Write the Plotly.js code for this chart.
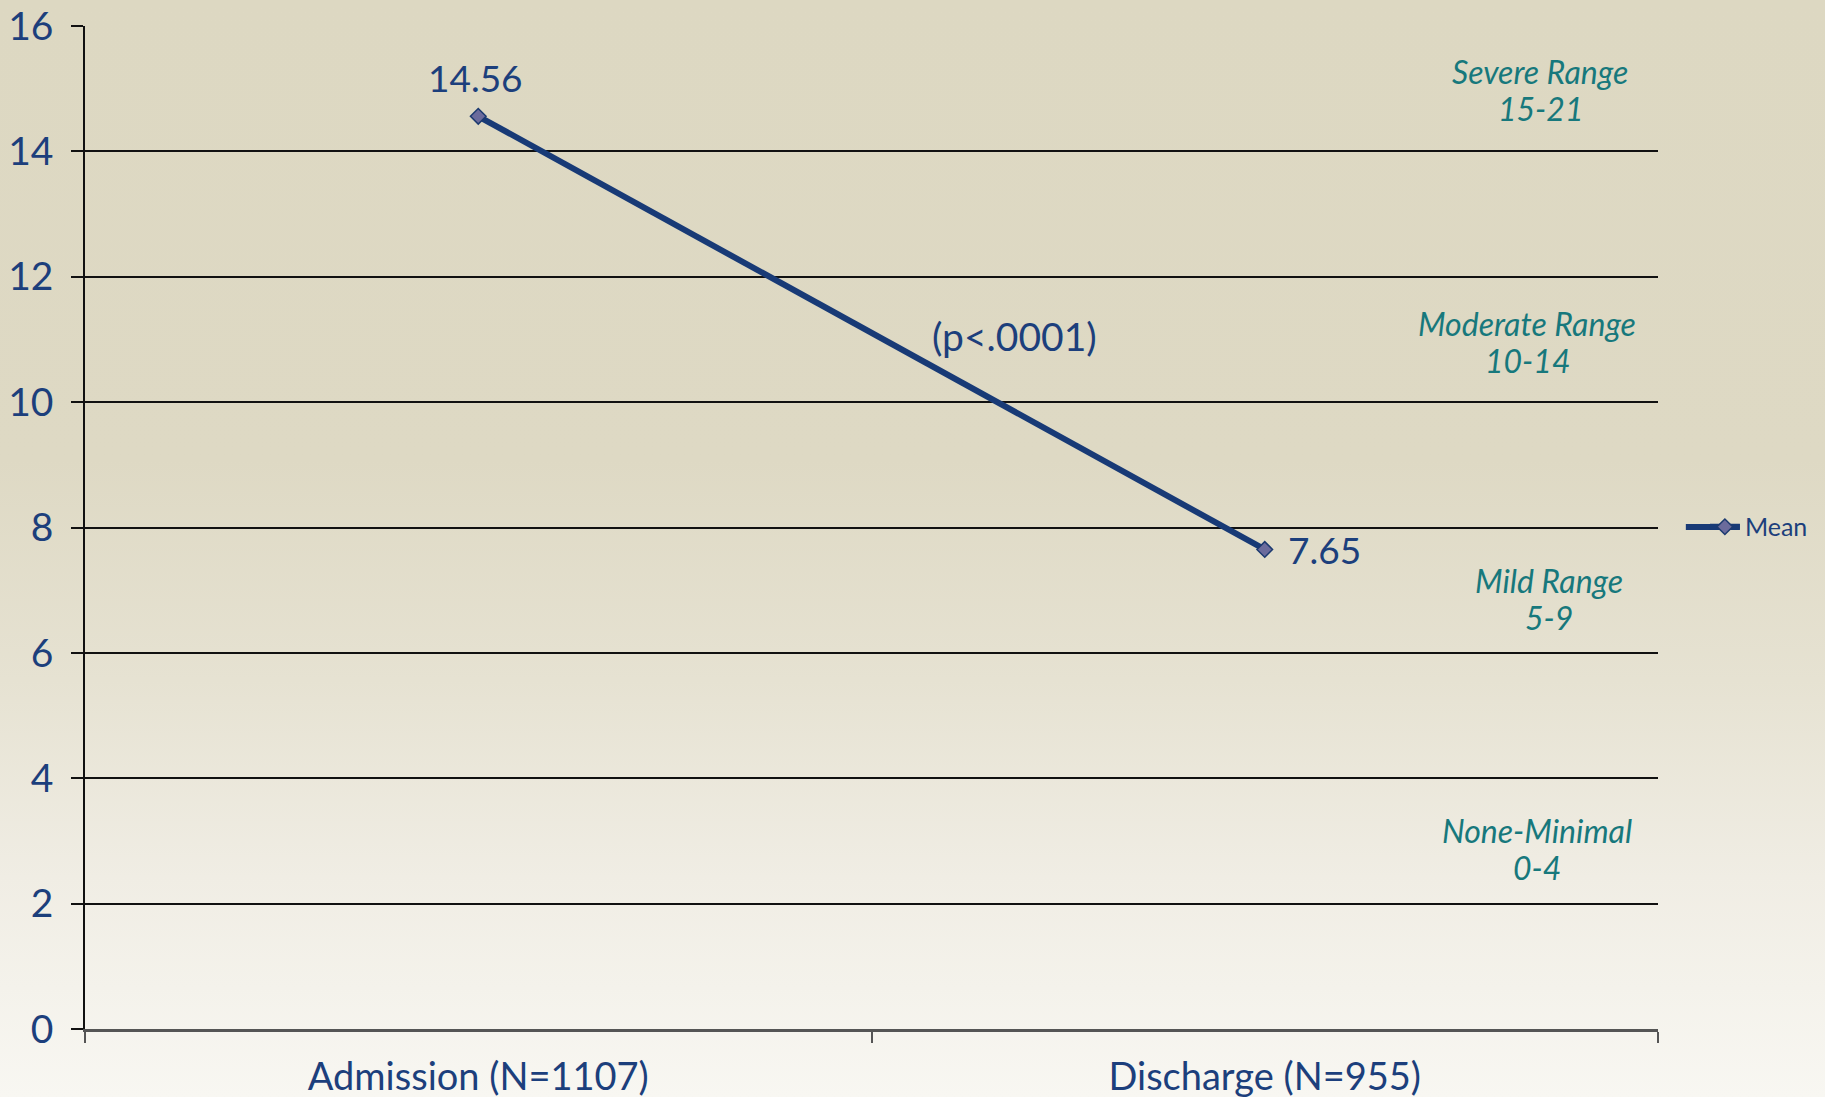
<!DOCTYPE html>
<html>
<head>
<meta charset="utf-8">
<script src="https://cdn.plot.ly/plotly-3.0.1.min.js"></script>
<style>
  html, body { margin: 0; padding: 0; }
  #chart {
    width: 1825px; height: 1097px;
    background: linear-gradient(to bottom, #DDD8C2 0%, #DED9C4 42%, #E6E2D2 62%, #F0EDE4 80%, #F8F7F2 100%);
  }
</style>
</head>
<body>
<div id="chart"></div>
<script>
// ---- data ----
const categories = ['Admission (N=1107)', 'Discharge (N=955)'];
const means = [14.56, 7.65];
const seriesName = 'Mean';
const pValueLabel = '(p<.0001)';
const rangeNames = ['Severe Range', 'Moderate Range', 'Mild Range', 'None-Minimal'];
const rangeSpans = ['15-21', '10-14', '5-9', '0-4'];
const yTicks = [0, 2, 4, 6, 8, 10, 12, 14, 16];

// ---- styling ----
const navy = '#1c3f7c';
const lineColor = '#183a76';
const teal = '#17787c';
const fontFamily = 'Lato, "Open Sans", sans-serif';

const trace = {
  x: categories,
  y: means,
  type: 'scatter',
  mode: 'lines+markers',
  name: seriesName,
  line: { color: lineColor, width: 6 },
  marker: { symbol: 'diamond', size: 12, color: '#6b6b9c', line: { color: '#1c3a70', width: 1.5 } },
  hoverinfo: 'x+y'
};

const annotations = [];
// value labels
annotations.push({
  x: categories[0], y: means[0], xref: 'x', yref: 'y',
  text: means[0].toFixed(2), showarrow: false,
  xanchor: 'center', yanchor: 'middle', yshift: 39, xshift: -3,
  font: { family: fontFamily, size: 37, color: navy }
});
annotations.push({
  x: categories[1], y: means[1], xref: 'x', yref: 'y',
  text: means[1].toFixed(2), showarrow: false,
  xanchor: 'left', yanchor: 'middle', xshift: 21,
  font: { family: fontFamily, size: 37, color: navy }
});
// p-value
annotations.push({
  x: 0.682, y: 11.05, xref: 'x', yref: 'y',
  text: pValueLabel, showarrow: false,
  xanchor: 'center', yanchor: 'middle',
  font: { family: fontFamily, size: 39, color: navy }
});
// severity range labels (two lines each)
const rangeLabelY = [14.98, 10.96, 6.86, 2.88];
const rangeLabelX = [0.925, 0.917, 0.931, 0.923];
rangeNames.forEach((n, i) => {
  annotations.push({
    x: rangeLabelX[i], y: rangeLabelY[i], xref: 'paper', yref: 'y',
    text: '<i>' + n + '</i>', showarrow: false,
    xanchor: 'center', yanchor: 'middle', yshift: 18,
    font: { family: fontFamily, size: 32, color: teal }
  });
  annotations.push({
    x: rangeLabelX[i], y: rangeLabelY[i], xref: 'paper', yref: 'y',
    text: '<i>' + rangeSpans[i] + '</i>', showarrow: false,
    xanchor: 'center', yanchor: 'middle', yshift: -19,
    font: { family: fontFamily, size: 32, color: teal }
  });
});

const layout = {
  width: 1825, height: 1097, autosize: false,
  margin: { l: 85, r: 165, t: 26, b: 68, pad: 0 },
  paper_bgcolor: 'rgba(0,0,0,0)',
  plot_bgcolor: 'rgba(0,0,0,0)',
  font: { family: fontFamily, color: navy },
  showlegend: true,
  legend: {
    x: 1.0298, y: 0.5005, xanchor: 'left', yanchor: 'middle',
    bgcolor: 'rgba(0,0,0,0)', font: { family: fontFamily, size: 25, color: navy }
  },
  shapes: [{
    // extends the legend key line to match the original's longer key
    type: 'line', xref: 'paper', yref: 'paper',
    x0: 1.0177, x1: 1.052, y0: 0.5005, y1: 0.5005,
    line: { color: lineColor, width: 6 }, layer: 'above'
  }],
  xaxis: {
    type: 'category', range: [-0.5, 1.5],
    showline: true, linecolor: '#555', linewidth: 2.5,
    ticks: 'outside', tickson: 'boundaries', ticklen: 11, tickcolor: '#555', tickwidth: 1.5,
    showgrid: false, zeroline: false,
    tickfont: { family: fontFamily, size: 38, color: navy },
    ticklabelstandoff: 13
  },
  yaxis: {
    range: [0, 16], tickvals: yTicks,
    showgrid: true, gridcolor: '#111', gridwidth: 1.5,
    showline: true, linecolor: '#111', linewidth: 1.5,
    ticks: 'outside', ticklen: 12, tickcolor: '#111', tickwidth: 1.5,
    zeroline: false,
    tickfont: { family: fontFamily, size: 39, color: navy },
    ticklabelstandoff: 10
  },
  annotations: annotations
};

Plotly.newPlot('chart', [trace], layout, { displayModeBar: false });
</script>
</body>
</html>
